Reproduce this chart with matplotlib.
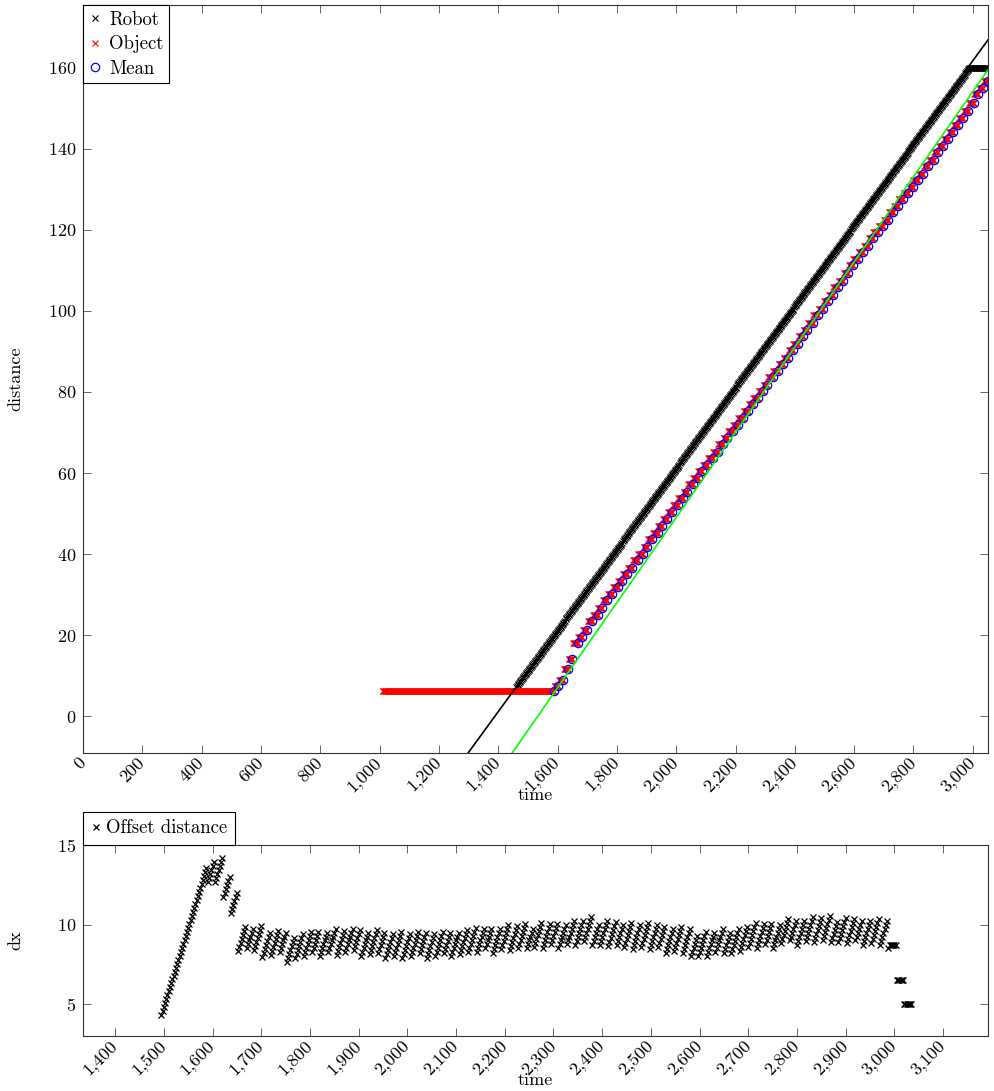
import numpy as np
import matplotlib
matplotlib.use('Agg')
import matplotlib.pyplot as plt
from matplotlib.ticker import FuncFormatter, MultipleLocator

plt.rcParams['font.family'] = ['cmr10', 'DejaVu Serif']
plt.rcParams['mathtext.fontset'] = 'cm'
plt.rcParams['axes.formatter.use_mathtext'] = True
plt.rcParams['font.size'] = 13

# Robot position, one sample every SAMPLE_DT starting at ROBOT_T0
SAMPLE_DT = 2.5
ROBOT_T0 = 1460
robot_d = [
    7.1, 7.35, 7.6, 7.85, 8.1, 8.35, 8.6, 8.85,
    9.1, 9.35, 9.6, 9.85, 10.1, 10.35, 10.6, 10.85,
    11.1, 11.35, 11.6, 11.85, 12.1, 12.35, 12.6, 12.85,
    13.1, 13.35, 13.6, 13.85, 14.1, 14.35, 14.6, 14.85,
    15.1, 15.35, 15.6, 15.85, 16.1, 16.35, 16.6, 16.85,
    17.1, 17.35, 17.6, 17.85, 18.1, 18.35, 18.6, 18.85,
    19.1, 19.35, 19.6, 19.85, 20.1, 20.35, 20.6, 20.85,
    21.1, 21.35, 21.6, 21.85, 22.1, 22.35, 22.6, 22.85,
    23.1, 23.35, 23.6, 23.85, 24.1, 24.35, 24.6, 24.85,
    25.1, 25.35, 25.6, 25.85, 26.1, 26.35, 26.6, 26.85,
    27.1, 27.35, 27.6, 27.85, 28.1, 28.35, 28.6, 28.85,
    29.1, 29.35, 29.6, 29.85, 30.1, 30.35, 30.6, 30.85,
    31.1, 31.35, 31.6, 31.85, 32.1, 32.35, 32.6, 32.85,
    33.1, 33.35, 33.6, 33.85, 34.1, 34.35, 34.6, 34.85,
    35.1, 35.35, 35.6, 35.85, 36.1, 36.35, 36.6, 36.85,
    37.1, 37.35, 37.6, 37.85, 38.1, 38.35, 38.6, 38.85,
    39.1, 39.35, 39.6, 39.85, 40.1, 40.35, 40.6, 40.85,
    41.1, 41.35, 41.6, 41.85, 42.1, 42.35, 42.6, 42.85,
    43.1, 43.35, 43.6, 43.85, 44.1, 44.35, 44.6, 44.85,
    45.1, 45.35, 45.6, 45.85, 46.1, 46.35, 46.6, 46.85,
    47.1, 47.35, 47.6, 47.85, 48.1, 48.35, 48.6, 48.85,
    49.1, 49.35, 49.6, 49.85, 50.1, 50.35, 50.6, 50.85,
    51.1, 51.35, 51.6, 51.85, 52.1, 52.35, 52.6, 52.85,
    53.1, 53.35, 53.6, 53.85, 54.1, 54.35, 54.6, 54.85,
    55.1, 55.35, 55.6, 55.85, 56.1, 56.35, 56.6, 56.85,
    57.1, 57.35, 57.6, 57.85, 58.1, 58.35, 58.6, 58.85,
    59.1, 59.35, 59.6, 59.85, 60.1, 60.35, 60.6, 60.85,
    61.1, 61.35, 61.6, 61.85, 62.1, 62.35, 62.6, 62.85,
    63.1, 63.35, 63.6, 63.85, 64.1, 64.35, 64.6, 64.85,
    65.1, 65.35, 65.6, 65.85, 66.1, 66.35, 66.6, 66.85,
    67.1, 67.35, 67.6, 67.85, 68.1, 68.35, 68.6, 68.85,
    69.1, 69.35, 69.6, 69.85, 70.1, 70.35, 70.6, 70.85,
    71.1, 71.35, 71.6, 71.85, 72.1, 72.35, 72.6, 72.85,
    73.1, 73.35, 73.6, 73.85, 74.1, 74.35, 74.6, 74.85,
    75.1, 75.35, 75.6, 75.85, 76.1, 76.35, 76.6, 76.85,
    77.1, 77.35, 77.6, 77.85, 78.1, 78.35, 78.6, 78.85,
    79.1, 79.35, 79.6, 79.85, 80.1, 80.35, 80.6, 80.85,
    81.1, 81.35, 81.6, 81.85, 82.1, 82.35, 82.6, 82.85,
    83.1, 83.35, 83.6, 83.85, 84.1, 84.35, 84.6, 84.85,
    85.1, 85.35, 85.6, 85.85, 86.1, 86.35, 86.6, 86.85,
    87.1, 87.35, 87.6, 87.85, 88.1, 88.35, 88.6, 88.85,
    89.1, 89.35, 89.6, 89.85, 90.1, 90.35, 90.6, 90.85,
    91.1, 91.35, 91.6, 91.85, 92.1, 92.35, 92.6, 92.85,
    93.1, 93.35, 93.6, 93.85, 94.1, 94.35, 94.6, 94.85,
    95.1, 95.35, 95.6, 95.85, 96.1, 96.35, 96.6, 96.85,
    97.1, 97.35, 97.6, 97.85, 98.1, 98.35, 98.6, 98.85,
    99.1, 99.35, 99.6, 99.85, 100.1, 100.35, 100.6, 100.85,
    101.1, 101.35, 101.6, 101.85, 102.1, 102.35, 102.6, 102.85,
    103.1, 103.35, 103.6, 103.85, 104.1, 104.35, 104.6, 104.85,
    105.1, 105.35, 105.6, 105.85, 106.1, 106.35, 106.6, 106.85,
    107.1, 107.35, 107.6, 107.85, 108.1, 108.35, 108.6, 108.85,
    109.1, 109.35, 109.6, 109.85, 110.1, 110.35, 110.6, 110.85,
    111.1, 111.35, 111.6, 111.85, 112.1, 112.35, 112.6, 112.85,
    113.1, 113.35, 113.6, 113.85, 114.1, 114.35, 114.6, 114.85,
    115.1, 115.35, 115.6, 115.85, 116.1, 116.35, 116.6, 116.85,
    117.1, 117.35, 117.6, 117.85, 118.1, 118.35, 118.6, 118.85,
    119.1, 119.35, 119.6, 119.85, 120.1, 120.35, 120.6, 120.85,
    121.1, 121.35, 121.6, 121.85, 122.1, 122.35, 122.6, 122.85,
    123.1, 123.35, 123.6, 123.85, 124.1, 124.35, 124.6, 124.85,
    125.1, 125.35, 125.6, 125.85, 126.1, 126.35, 126.6, 126.85,
    127.1, 127.35, 127.6, 127.85, 128.1, 128.35, 128.6, 128.85,
    129.1, 129.35, 129.6, 129.85, 130.1, 130.35, 130.6, 130.85,
    131.1, 131.35, 131.6, 131.85, 132.1, 132.35, 132.6, 132.85,
    133.1, 133.35, 133.6, 133.85, 134.1, 134.35, 134.6, 134.85,
    135.1, 135.35, 135.6, 135.85, 136.1, 136.35, 136.6, 136.85,
    137.1, 137.35, 137.6, 137.85, 138.1, 138.35, 138.6, 138.85,
    139.1, 139.35, 139.6, 139.85, 140.1, 140.35, 140.6, 140.85,
    141.1, 141.35, 141.6, 141.85, 142.1, 142.35, 142.6, 142.85,
    143.1, 143.35, 143.6, 143.85, 144.1, 144.35, 144.6, 144.85,
    145.1, 145.35, 145.6, 145.85, 146.1, 146.35, 146.6, 146.85,
    147.1, 147.35, 147.6, 147.85, 148.1, 148.35, 148.6, 148.85,
    149.1, 149.35, 149.6, 149.85, 150.1, 150.35, 150.6, 150.85,
    151.1, 151.35, 151.6, 151.85, 152.1, 152.35, 152.6, 152.85,
    153.1, 153.35, 153.6, 153.85, 154.1, 154.35, 154.6, 154.85,
    155.1, 155.35, 155.6, 155.85, 156.1, 156.35, 156.6, 156.85,
    157.1, 157.35, 157.6, 157.85, 158.1, 158.35, 158.6, 158.85,
    159.1, 159.35, 159.6, 159.85, 160.0, 160.0, 160.0, 160.0,
    160.0, 160.0, 160.0, 160.0, 160.0, 160.0, 160.0, 160.0,
    160.0, 160.0, 160.0, 160.0, 160.0, 160.0, 160.0, 160.0,
    160.0, 160.0, 160.0, 160.0, 160.0,
]

# Object estimate: each value is held from its update time until the next update
OBJECT_T0 = 1010
OBJECT_T1 = 3050
obj_update_t = [
    1010, 1590, 1605, 1622, 1636,
    1651, 1668, 1685, 1702, 1719, 1736, 1752, 1769, 1786, 1803,
    1820, 1837, 1854, 1871, 1888, 1905, 1922, 1938, 1955, 1972,
    1989, 2006, 2023, 2040, 2057, 2074, 2090, 2107, 2124, 2141,
    2158, 2175, 2192, 2209, 2226, 2243, 2259, 2276, 2293, 2310,
    2327, 2344, 2361, 2378, 2395, 2412, 2428, 2445, 2462, 2479,
    2496, 2513, 2530, 2547, 2564, 2581, 2597, 2614, 2631, 2648,
    2665, 2682, 2699, 2716, 2733, 2750, 2766, 2783, 2800, 2817,
    2834, 2851, 2868, 2885, 2902, 2919, 2935, 2952, 2969, 2986,
    3003, 3020, 3037,
]
obj_update_d = [
    6.3, 7.4, 8.9, 11.6, 14.1,
    18.0, 19.6, 21.2, 23.4, 25.0, 26.6, 28.7, 30.2, 31.8, 33.3,
    35.1, 36.6, 38.5, 40.1, 41.7, 43.6, 45.2, 46.9, 48.7, 50.3,
    52.2, 53.8, 55.4, 57.2, 58.8, 60.4, 62.1, 63.7, 65.3, 67.1,
    68.6, 70.4, 71.9, 73.7, 75.3, 77.1, 78.5, 80.3, 81.8, 83.6,
    85.1, 86.9, 88.4, 90.4, 91.9, 93.7, 95.4, 97.0, 98.9, 100.5,
    102.4, 104.0, 105.9, 107.5, 109.4, 111.3, 112.8, 114.6, 116.1, 117.9,
    119.4, 121.0, 122.5, 124.3, 125.8, 127.6, 129.0, 130.6, 132.4, 133.9,
    135.7, 137.3, 139.2, 140.7, 142.5, 144.1, 145.9, 147.5, 149.4, 151.3,
    153.5, 155.0, 156.8,
]

# Linear fits: (slope, zero crossing time)
robot_fit = (0.1004, 1389.0)
object_fit = (0.1051, 1533.4)

# window in which the offset is reported
OFFSET_START = 1493
OFFSET_END = 3036

assert len(obj_update_t) == len(obj_update_d)

robot_t = ROBOT_T0 + SAMPLE_DT * np.arange(len(robot_d))
robot_d = np.array(robot_d)
upd_t = np.array(obj_update_t)
upd_d = np.array(obj_update_d)

obj_t = np.arange(OBJECT_T0, OBJECT_T1 + 0.1, SAMPLE_DT)
obj_idx = np.searchsorted(upd_t, obj_t, side='right') - 1
obj_d = upd_d[obj_idx]

# mean of each held block, placed at the last sample of the block
mean_t = np.array([obj_t[obj_idx == k].max() for k in range(len(upd_t))])
mean_d = np.array([obj_d[obj_idx == k].mean() for k in range(len(upd_t))])

held = upd_d[np.searchsorted(upd_t, robot_t, side='right') - 1]
win = (robot_t >= OFFSET_START) & (robot_t <= OFFSET_END)
off_t = robot_t[win]
off_d = robot_d[win] - held[win]

fig = plt.figure(figsize=(9.95, 10.91), dpi=100)
ax1 = fig.add_axes([0.0834, 0.3098, 0.9095, 0.6856])
ax2 = fig.add_axes([0.0834, 0.0504, 0.9095, 0.1751])

comma = FuncFormatter(lambda v, p: f'{v:,.0f}')


def style_axes(ax):
    for s in ax.spines.values():
        s.set_linewidth(0.8)
        s.set_color('#333333')
    ax.tick_params(direction='in', top=True, right=True, length=6,
                   width=0.7, color='#666666', pad=5)
    ax.xaxis.set_major_formatter(comma)
    for lab in ax.get_xticklabels():
        lab.set_rotation(45)
        lab.set_ha('right')
        lab.set_va('center')
        lab.set_rotation_mode('anchor')


# --- distance over time ---
ax1.plot(robot_t, robot_d, ls='none', marker='x', color='black',
         ms=3.8, mew=0.8, label='Robot')
ax1.plot(obj_t, obj_d, ls='none', marker='x', color='red',
         ms=3.8, mew=0.8, label='Object')
ax1.plot(mean_t, mean_d, ls='none', marker='o', mfc='none', mec='blue',
         ms=6, mew=0.9, label='Mean')

x_lim = (0, 3051)
xs = np.array(x_lim, dtype=float)
ax1.plot(xs, robot_fit[0] * (xs - robot_fit[1]), color='black', lw=1.2)
ax1.plot(xs, object_fit[0] * (xs - object_fit[1]), color=(0, 1, 0), lw=1.2)

ax1.set_xlim(*x_lim)
ax1.set_ylim(-9.1, 175.5)
ax1.xaxis.set_major_locator(MultipleLocator(200))
ax1.yaxis.set_major_locator(MultipleLocator(20))
style_axes(ax1)
ax1.set_xlabel('time')
ax1.set_ylabel('distance')
ax1.xaxis.set_label_coords(0.5, -0.047)
ax1.yaxis.set_label_coords(-0.066, 0.5)

leg = ax1.legend(loc='upper left', borderaxespad=0, fancybox=False,
                 edgecolor='black', framealpha=1, handlelength=0.7,
                 handletextpad=0.4, borderpad=0.3, labelspacing=0.35,
                 fontsize=13.5)
leg.get_frame().set_linewidth(0.8)

# --- offset between robot and object ---
ax2.plot(off_t, off_d, ls='none', marker='x', color='black',
         ms=4.5, mew=0.9, label='Offset distance')
ax2.set_xlim(1334, 3192)
ax2.set_ylim(3, 15)
ax2.xaxis.set_major_locator(MultipleLocator(100))
ax2.yaxis.set_major_locator(MultipleLocator(5))
style_axes(ax2)
ax2.set_xlabel('time')
ax2.set_ylabel('dx')
ax2.xaxis.set_label_coords(0.5, -0.19)
ax2.yaxis.set_label_coords(-0.066, 0.5)

leg2 = ax2.legend(loc='lower left', bbox_to_anchor=(0, 1), borderaxespad=0,
                  fancybox=False, edgecolor='black', framealpha=1,
                  handlelength=0.6, handletextpad=0.25, borderpad=0.4,
                  fontsize=13.5)
leg2.get_frame().set_linewidth(0.8)

fig.savefig('out.png', dpi=100)
